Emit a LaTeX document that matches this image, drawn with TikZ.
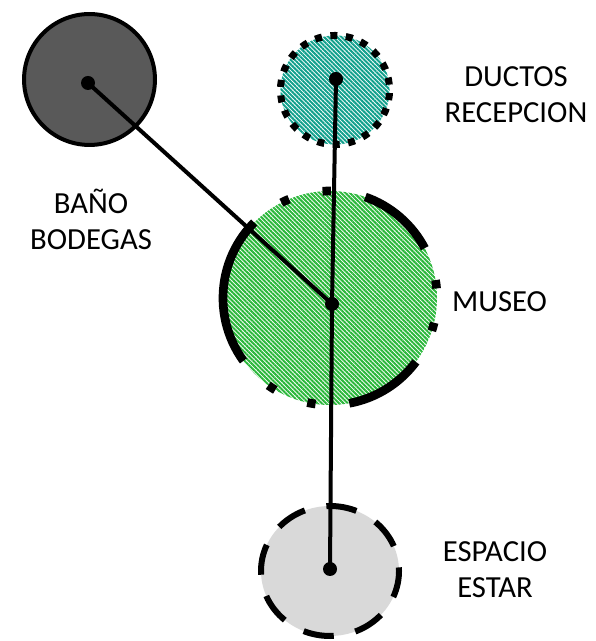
\documentclass[tikz,border=0pt]{standalone}
\usepackage{fontspec}
\setmainfont{Carlito}
\usetikzlibrary{patterns.meta,shapes.geometric}

\definecolor{ductoteal}{RGB}{17,160,140}
\definecolor{museogreen}{RGB}{42,183,58}
\definecolor{banogray}{RGB}{89,89,89}
\definecolor{estargray}{RGB}{217,217,217}

\tikzset{
  zone/.style={circle, inner sep=0pt, outer sep=0pt},
  stripes/.style={pattern={Lines[angle=-45, distance=2.3pt, line width=1.5pt]}, pattern color=#1},
  hub/.style={circle, fill=black, inner sep=0pt, minimum size=10.5pt},
  link/.style={line width=3pt},
  tag/.style={font=\fontsize{23}{27}\selectfont, align=center, anchor=base},
  ductosring/.style={line width=5.25pt, dash pattern=on 5.25pt off 6.43pt, dash phase=7.61pt},
  museoring/.style={line width=6.5pt,
    dash pattern=on 60.2pt off 26.3pt on 6.3pt off 25.9pt on 6.3pt off 25.4pt},
  estarring/.style={line width=4.5pt, dash pattern=on 23pt off 16.5pt, dash phase=20.3pt},
}

\begin{document}
\begin{tikzpicture}[x=0.75pt, y=0.75pt]
\useasboundingbox (0,0) rectangle (595,641);

% Zones
\node[zone, fill=banogray, draw=black, line width=3pt, minimum size=98.2pt] (bano) at (89.5,561.5) {};
\node[zone, stripes=ductoteal, minimum size=81.8pt] (ductos) at (335,551) {};
\draw[ductosring] (ductos.center) circle[radius=40.9pt];
\node[zone, stripes=museogreen, minimum size=160.5pt] (museo) at (330,343) {};
\draw[museoring] (museo.173) arc[start angle=173, delta angle=360, radius=80.25pt];
\node[ellipse, inner sep=0pt, outer sep=0pt, fill=estargray,
  minimum width=103.5pt, minimum height=97.5pt] (estar) at (330,70) {};
\draw[estarring] (estar.center) ellipse[x radius=51.75pt, y radius=48.75pt];

% Hubs
\node[hub] (banodot) at (88,558) {};
\node[hub] (ductosdot) at (336,562) {};
\node[hub] (museodot) at (332,337) {};
\node[hub] (estardot) at (330,72) {};

% Links
\draw[link] (banodot.center) -- (museodot.center);
\draw[link] (ductosdot.center) -- (museodot.center);
\draw[link] (museodot.center) -- (estardot.center);

% Labels
\node[tag] (ductoslbl) at (516,518) {DUCTOS\\RECEPCION};
\node[tag] (banolbl) at (91,391) {BAÑO\\BODEGAS};
\node[tag] (museolbl) at (499.5,329) {MUSEO};
\node[tag] (estarlbl) at (495,43) {ESPACIO\\ESTAR};
\end{tikzpicture}
\end{document}
